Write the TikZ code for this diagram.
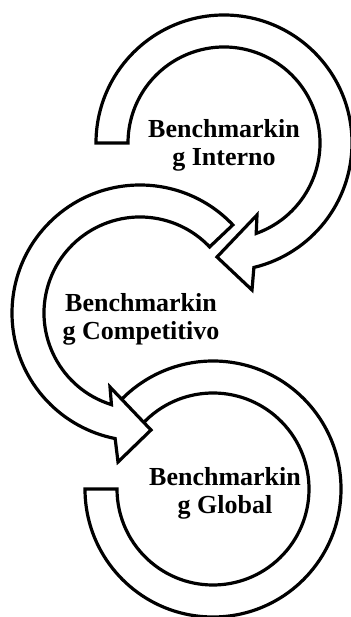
\documentclass[tikz,border=0pt]{standalone}
\usepackage{fontspec}
\setmainfont{Liberation Serif}
\usetikzlibrary{calc}
\tikzset{
  band/.style={draw=black, fill=white, line width=3.2pt, line join=miter},
  label/.style={font=\bfseries\fontsize{26}{27.5}\selectfont, align=center, inner sep=0pt}
}
\begin{document}
\begin{tikzpicture}[x=1pt, y=1pt]
\begin{scope}[yshift=617pt, yscale=-1]
  \useasboundingbox (0,0) rectangle (350,617);
  \coordinate (c1) at (224,143);
  \coordinate (c2) at (140,313);
  \coordinate (c3) at (213,489);

  % third arrow: its end runs under the head of the second one
  \draw[band] ($(c3)+(180:128)$) arc[start angle=180, end angle=-140, radius=128]
    -- ($(c3)+(-140:96)$) arc[start angle=-140, end angle=180, radius=96] -- cycle;

  % second arrow, anticlockwise, head at the bottom
  \draw[band] ($(c2)+(-43.5:128)$) arc[start angle=-43.5, end angle=-258.8, radius=128]
    -- (118,462) -- (151,430) -- (110,387)
    -- ($(c2)+(-252.7:96)$) arc[start angle=-252.7, end angle=-43.5, radius=96] -- cycle;

  % first arrow, clockwise, head at the bottom
  \draw[band] ($(c1)+(180:128)$) arc[start angle=180, end angle=436.5, radius=128]
    -- (252,290) -- (217,257) -- (257,215)
    -- ($(c1)+(430.4:96)$) arc[start angle=430.4, end angle=180, radius=96] -- cycle;

  \node[label] (interno) at (224,145.5) {Benchmarkin\\g Interno};
  \node[label] (competitivo) at (141,319.5) {Benchmarkin\\g Competitivo};
  \node[label] (global) at (225,493.5) {Benchmarkin\\g Global};
\end{scope}
\end{tikzpicture}
\end{document}
